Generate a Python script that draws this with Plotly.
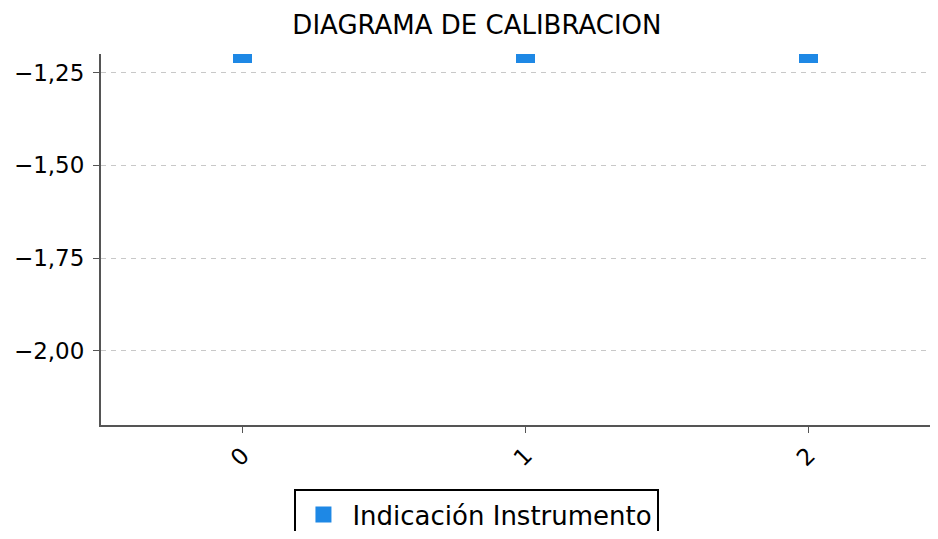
import plotly.graph_objects as go

categories = [0, 1, 2]
indicacion = [-1.225, -1.225, -1.225]
tick_vals_y = [-2.0, -1.75, -1.5, -1.25]
serie_nombre = "Indicación Instrumento"
COLOR = "#1E88E5"

fig = go.Figure()
fig.add_trace(go.Bar(
    x=categories, y=indicacion, name=serie_nombre,
    marker=dict(color=COLOR, line=dict(width=0)), width=0.065,
    showlegend=False, legendgroup="ind",
))
# legend entry with a larger square symbol
fig.add_trace(go.Scatter(
    x=[None], y=[None], mode="markers", name=serie_nombre, legendgroup="ind",
    marker=dict(symbol="square", size=16, color=COLOR), showlegend=True,
))

FONT = "DejaVu Sans"
fig.update_layout(
    width=922, height=523,
    margin=dict(l=93, r=0, t=46, b=106),
    paper_bgcolor="white", plot_bgcolor="white",
    separators=",.",
    font=dict(family=FONT, size=23, color="black"),
    title=dict(text="DIAGRAMA DE CALIBRACION", x=0.4535, xref="paper", xanchor="center",
               y=1 - 17 / 523, yref="container", yanchor="middle",
               font=dict(family=FONT, size=26, color="black")),
    showlegend=True,
    legend=dict(orientation="h", x=0.4535, xanchor="center",
                y=1 - 481 / 523, yref="container", yanchor="top",
                itemsizing="trace", itemwidth=48,
                bordercolor="black", borderwidth=2, font=dict(size=26)),
    bargap=0,
)
fig.update_xaxes(
    range=[-0.5, 2.429], tickvals=categories, ticktext=[str(c) for c in categories],
    tickangle=-45, showgrid=False, zeroline=False,
    showline=True, linecolor="#555555", linewidth=2,
    ticks="outside", ticklen=6, tickcolor="#555555", tickwidth=1,
    tickfont=dict(size=23),
)
fig.update_yaxes(
    range=[-2.2, -1.2], tickvals=tick_vals_y, tickformat=".2f",
    showgrid=True, gridcolor="#c8c8c8", griddash="5px,5px", gridwidth=1, zeroline=False,
    showline=True, linecolor="#555555", linewidth=2,
    ticks="outside", ticklen=6, tickcolor="#555555", tickwidth=1,
    tickfont=dict(size=23), ticklabelstandoff=4,
)
fig.write_html("out.html")
